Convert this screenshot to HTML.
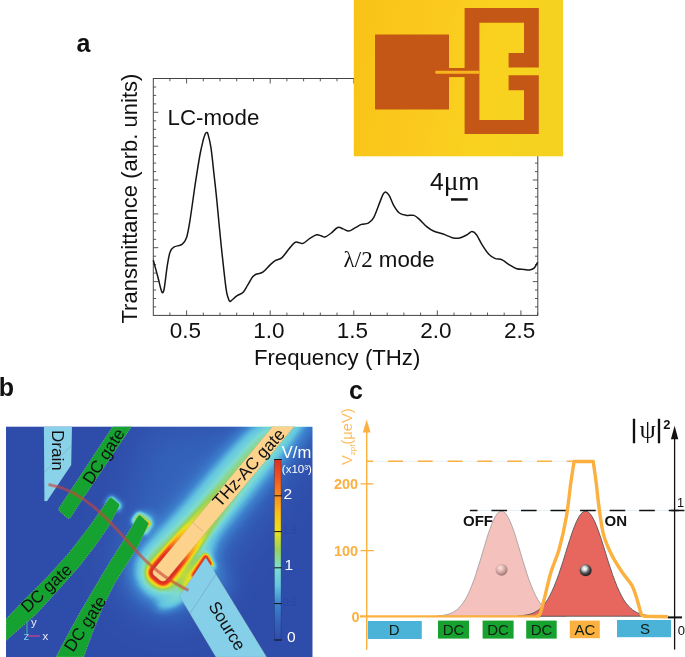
<!DOCTYPE html>
<html><head><meta charset="utf-8"><title>Figure</title>
<style>
html,body{margin:0;padding:0;background:#fff;}
body{width:685px;height:657px;overflow:hidden;}
svg{display:block;}
text{font-family:"Liberation Sans",sans-serif;}
.ser{font-family:"Liberation Serif",serif;}
</style></head><body>
<svg width="685" height="657" viewBox="0 0 685 657">
<defs>
  <linearGradient id="ygrad" x1="0" y1="0" x2="1" y2="0.15">
    <stop offset="0" stop-color="#f9c216"/><stop offset="0.45" stop-color="#facb1e"/><stop offset="0.7" stop-color="#f9d21e"/><stop offset="1" stop-color="#f5d220"/>
  </linearGradient>
  <filter id="jet" color-interpolation-filters="sRGB" x="0" y="0" width="100%" height="100%" filterUnits="objectBoundingBox">
    <feComponentTransfer>
      <feFuncR type="table" tableValues="0.184 0.204 0.243 0.384 0.494 0.588 0.922 0.988 0.980 0.941 0.871"/>
      <feFuncG type="table" tableValues="0.302 0.384 0.510 0.769 0.863 0.824 0.882 0.745 0.549 0.333 0.180"/>
      <feFuncB type="table" tableValues="0.667 0.729 0.808 0.886 0.816 0.361 0.118 0.098 0.118 0.118 0.133"/>
    </feComponentTransfer>
  </filter>
  <filter id="bl8" x="-50%" y="-50%" width="200%" height="200%"><feGaussianBlur stdDeviation="8"/></filter>
  <filter id="bl5" x="-50%" y="-50%" width="200%" height="200%"><feGaussianBlur stdDeviation="5"/></filter>
  <filter id="bl3" x="-50%" y="-50%" width="200%" height="200%"><feGaussianBlur stdDeviation="3"/></filter>
  <filter id="bl15" x="-50%" y="-50%" width="200%" height="200%"><feGaussianBlur stdDeviation="1.5"/></filter>
  <filter id="bl20" x="-50%" y="-50%" width="200%" height="200%"><feGaussianBlur stdDeviation="20"/></filter>
  <filter id="bl12" x="-50%" y="-50%" width="200%" height="200%"><feGaussianBlur stdDeviation="12"/></filter>
  <filter id="bl10" x="-50%" y="-50%" width="200%" height="200%"><feGaussianBlur stdDeviation="1.0"/></filter>
  <filter id="bl25" x="-50%" y="-50%" width="200%" height="200%"><feGaussianBlur stdDeviation="2.5"/></filter>
  <filter id="bl9" x="-50%" y="-50%" width="200%" height="200%"><feGaussianBlur stdDeviation="9"/></filter>
  <filter id="bl35" x="-50%" y="-50%" width="200%" height="200%"><feGaussianBlur stdDeviation="2.6"/></filter>
  <linearGradient id="acg3" gradientUnits="userSpaceOnUse" x1="157.5" y1="577.8" x2="281.7" y2="426.4"><stop offset="0" stop-color="#fff" stop-opacity="0.27"/><stop offset="0.4" stop-color="#fff" stop-opacity="0.26"/><stop offset="1" stop-color="#fff" stop-opacity="0.23"/></linearGradient>
  <linearGradient id="acg2" gradientUnits="userSpaceOnUse" x1="157.5" y1="577.8" x2="281.7" y2="426.4"><stop offset="0" stop-color="#fff" stop-opacity="0.36"/><stop offset="0.2" stop-color="#fff" stop-opacity="0.36"/><stop offset="0.3" stop-color="#fff" stop-opacity="0.3"/><stop offset="0.45" stop-color="#fff" stop-opacity="0.2"/><stop offset="0.6" stop-color="#fff" stop-opacity="0.13"/><stop offset="1" stop-color="#fff" stop-opacity="0.1"/></linearGradient>
  <linearGradient id="acg1" gradientUnits="userSpaceOnUse" x1="157.5" y1="577.8" x2="281.7" y2="426.4"><stop offset="0" stop-color="#fff" stop-opacity="1"/><stop offset="0.1" stop-color="#fff" stop-opacity="1"/><stop offset="0.15" stop-color="#fff" stop-opacity="0.8"/><stop offset="0.2" stop-color="#fff" stop-opacity="0.42"/><stop offset="0.27" stop-color="#fff" stop-opacity="0.1"/><stop offset="0.33" stop-color="#fff" stop-opacity="0"/></linearGradient>
  <linearGradient id="acg" gradientUnits="userSpaceOnUse" x1="157.5" y1="577.8" x2="281.7" y2="426.4">
    <stop offset="0" stop-color="#fff" stop-opacity="0.62"/><stop offset="0.25" stop-color="#fff" stop-opacity="0.55"/><stop offset="0.55" stop-color="#fff" stop-opacity="0.42"/><stop offset="1" stop-color="#fff" stop-opacity="0.34"/>
  </linearGradient>
  <linearGradient id="ach" gradientUnits="userSpaceOnUse" x1="157.5" y1="577.8" x2="281.7" y2="426.4">
    <stop offset="0" stop-color="#fff" stop-opacity="1"/><stop offset="0.2" stop-color="#fff" stop-opacity="0.9"/><stop offset="0.45" stop-color="#fff" stop-opacity="0.25"/><stop offset="0.7" stop-color="#fff" stop-opacity="0"/>
  </linearGradient>
  <linearGradient id="cbar" x1="0" y1="1" x2="0" y2="0">
    <stop offset="0.00" stop-color="rgb(47,77,170)"/><stop offset="0.10" stop-color="rgb(52,98,186)"/><stop offset="0.20" stop-color="rgb(62,130,206)"/><stop offset="0.30" stop-color="rgb(98,196,226)"/><stop offset="0.40" stop-color="rgb(126,220,208)"/><stop offset="0.50" stop-color="rgb(150,210,92)"/><stop offset="0.60" stop-color="rgb(235,225,30)"/><stop offset="0.70" stop-color="rgb(252,190,25)"/><stop offset="0.80" stop-color="rgb(250,140,30)"/><stop offset="0.90" stop-color="rgb(240,85,30)"/><stop offset="1.00" stop-color="rgb(222,46,34)"/>
  </linearGradient>
  <clipPath id="bclip"><rect x="6" y="426.4" width="306.7" height="231"/></clipPath>
  <radialGradient id="ballp" cx="0.4" cy="0.35" r="0.7"><stop offset="0" stop-color="#fbe6e4"/><stop offset="0.45" stop-color="#e2b2ad"/><stop offset="1" stop-color="#8f6f6c"/></radialGradient>
  <radialGradient id="ballk" cx="0.42" cy="0.36" r="0.7"><stop offset="0" stop-color="#ffffff"/><stop offset="0.22" stop-color="#e4e4e4"/><stop offset="0.55" stop-color="#555"/><stop offset="1" stop-color="#0a0a0a"/></radialGradient>
</defs>

<!-- ================= PANEL A ================= -->
<g id="panelA">
  <text x="76.5" y="52" font-size="25" font-weight="bold" fill="#111">a</text>
  <rect x="153.3" y="78.5" width="384.5" height="236.9" fill="none" stroke="#444" stroke-width="1"/>
  <path d="M169.9 315.4 v-2.8 M169.9 78.5 v2.8 M186.6 315.4 v-5.0 M186.6 78.5 v5.0 M203.3 315.4 v-2.8 M203.3 78.5 v2.8 M220.0 315.4 v-2.8 M220.0 78.5 v2.8 M236.7 315.4 v-2.8 M236.7 78.5 v2.8 M253.5 315.4 v-2.8 M253.5 78.5 v2.8 M270.2 315.4 v-5.0 M270.2 78.5 v5.0 M286.9 315.4 v-2.8 M286.9 78.5 v2.8 M303.6 315.4 v-2.8 M303.6 78.5 v2.8 M320.3 315.4 v-2.8 M320.3 78.5 v2.8 M337.0 315.4 v-2.8 M337.0 78.5 v2.8 M353.8 315.4 v-5.0 M353.8 78.5 v5.0 M370.5 315.4 v-2.8 M370.5 78.5 v2.8 M387.2 315.4 v-2.8 M387.2 78.5 v2.8 M403.9 315.4 v-2.8 M403.9 78.5 v2.8 M420.6 315.4 v-2.8 M420.6 78.5 v2.8 M437.3 315.4 v-5.0 M437.3 78.5 v5.0 M454.0 315.4 v-2.8 M454.0 78.5 v2.8 M470.8 315.4 v-2.8 M470.8 78.5 v2.8 M487.5 315.4 v-2.8 M487.5 78.5 v2.8 M504.2 315.4 v-2.8 M504.2 78.5 v2.8 M520.9 315.4 v-5.0 M520.9 78.5 v5.0 M537.6 315.4 v-2.8 M537.6 78.5 v2.8 M153.3 87.0 h2.8 M537.8 87.0 h-2.8 M153.3 95.4 h2.8 M537.8 95.4 h-2.8 M153.3 103.9 h2.8 M537.8 103.9 h-2.8 M153.3 112.3 h5.0 M537.8 112.3 h-5.0 M153.3 120.8 h2.8 M537.8 120.8 h-2.8 M153.3 129.3 h2.8 M537.8 129.3 h-2.8 M153.3 137.7 h2.8 M537.8 137.7 h-2.8 M153.3 146.2 h5.0 M537.8 146.2 h-5.0 M153.3 154.6 h2.8 M537.8 154.6 h-2.8 M153.3 163.1 h2.8 M537.8 163.1 h-2.8 M153.3 171.6 h2.8 M537.8 171.6 h-2.8 M153.3 180.0 h5.0 M537.8 180.0 h-5.0 M153.3 188.5 h2.8 M537.8 188.5 h-2.8 M153.3 196.9 h2.8 M537.8 196.9 h-2.8 M153.3 205.4 h2.8 M537.8 205.4 h-2.8 M153.3 213.9 h5.0 M537.8 213.9 h-5.0 M153.3 222.3 h2.8 M537.8 222.3 h-2.8 M153.3 230.8 h2.8 M537.8 230.8 h-2.8 M153.3 239.3 h2.8 M537.8 239.3 h-2.8 M153.3 247.7 h5.0 M537.8 247.7 h-5.0 M153.3 256.2 h2.8 M537.8 256.2 h-2.8 M153.3 264.6 h2.8 M537.8 264.6 h-2.8 M153.3 273.1 h2.8 M537.8 273.1 h-2.8 M153.3 281.6 h5.0 M537.8 281.6 h-5.0 M153.3 290.0 h2.8 M537.8 290.0 h-2.8 M153.3 298.5 h2.8 M537.8 298.5 h-2.8 M153.3 306.9 h2.8 M537.8 306.9 h-2.8" stroke="#444" stroke-width="0.9" fill="none"/>
  <path d="M153.3 260.2 C154.1 263.1 156.7 272.6 158.0 277.5 C159.3 282.4 160.2 287.0 161.0 289.5 C161.8 292.0 162.0 292.9 162.6 292.7 C163.2 292.4 163.5 292.6 164.3 288.0 C165.1 283.4 166.4 270.8 167.4 264.8 C168.4 258.8 169.0 254.9 170.1 252.0 C171.2 249.1 171.8 248.4 173.8 247.1 C175.8 245.8 179.9 245.9 182.0 244.3 C184.1 242.7 185.2 241.6 186.6 237.4 C188.0 233.2 188.7 228.4 190.2 219.0 C191.7 209.6 194.0 191.8 195.7 180.9 C197.4 170.0 198.9 160.3 200.2 153.5 C201.5 146.7 202.5 143.1 203.3 139.8 C204.2 136.5 204.8 135.0 205.3 133.8 C205.9 132.6 206.2 132.4 206.6 132.5 C207.0 132.6 207.3 131.7 208.0 134.2 C208.7 136.7 209.9 140.9 210.9 147.4 C211.9 153.9 212.9 164.2 213.9 173.3 C214.9 182.4 215.8 190.0 217.0 202.2 C218.2 214.4 219.8 232.4 221.3 246.5 C222.8 260.6 224.7 278.2 225.8 286.7 C226.9 295.2 227.3 295.1 228.0 297.5 C228.7 299.9 229.2 300.9 229.9 301.3 C230.6 301.7 230.8 300.9 232.0 300.0 C233.2 299.1 234.9 297.1 236.8 295.8 C238.7 294.5 241.4 294.0 243.2 292.2 C245.0 290.4 246.2 287.4 247.8 284.9 C249.4 282.4 251.1 278.8 252.5 277.0 C253.9 275.2 254.3 275.1 256.0 274.3 C257.7 273.5 260.4 273.8 262.8 272.2 C265.2 270.6 268.0 266.9 270.1 264.9 C272.2 262.9 273.6 261.6 275.6 260.4 C277.6 259.2 279.7 259.6 282.0 257.6 C284.3 255.6 287.2 251.0 289.3 248.5 C291.4 246.0 293.2 243.6 294.7 242.6 C296.2 241.6 297.1 242.3 298.5 242.4 C299.9 242.5 301.0 244.1 303.0 243.4 C305.0 242.7 308.0 239.5 310.3 238.1 C312.6 236.7 314.9 235.2 316.7 234.8 C318.5 234.4 319.6 235.4 321.0 235.8 C322.4 236.2 323.2 237.5 324.9 237.0 C326.6 236.5 329.2 234.6 331.3 233.0 C333.4 231.4 335.7 228.2 337.7 227.5 C339.7 226.8 341.4 228.3 343.2 228.9 C345.0 229.5 346.6 231.3 348.6 231.1 C350.6 230.9 352.9 229.0 355.0 227.9 C357.1 226.8 359.2 225.2 361.4 224.4 C363.6 223.6 366.2 224.2 368.3 223.1 C370.4 222.0 371.9 220.8 373.7 217.6 C375.5 214.4 377.7 207.7 379.2 203.9 C380.7 200.1 381.8 196.7 382.9 194.7 C384.0 192.7 384.5 191.8 385.6 192.0 C386.7 192.2 387.9 193.4 389.3 195.7 C390.7 198.0 392.1 202.8 393.8 205.7 C395.5 208.6 397.2 211.4 399.3 213.0 C401.4 214.6 404.2 215.0 406.6 215.4 C409.0 215.8 411.8 214.7 413.9 215.4 C416.0 216.1 417.3 217.5 419.4 219.4 C421.5 221.3 424.3 224.7 426.7 226.7 C429.1 228.7 431.2 230.1 434.0 231.3 C436.8 232.5 440.1 232.9 443.2 234.0 C446.2 235.1 449.6 237.0 452.3 237.7 C455.0 238.4 457.2 238.5 459.6 238.0 C462.0 237.5 464.8 236.0 466.9 234.9 C469.0 233.8 470.4 231.6 472.0 231.6 C473.6 231.6 474.8 232.5 476.5 234.7 C478.2 236.9 480.0 241.5 482.0 244.7 C484.0 247.9 486.3 251.5 488.4 253.8 C490.5 256.1 492.5 257.4 494.8 258.4 C497.1 259.4 499.7 258.8 502.1 259.9 C504.5 261.0 507.0 263.3 509.4 264.8 C511.8 266.3 514.3 268.0 516.7 268.8 C519.1 269.6 521.9 269.2 524.0 269.4 C526.1 269.6 527.8 270.1 529.5 269.9 C531.2 269.7 532.7 269.4 534.1 268.1 C535.5 266.8 537.1 263.1 537.7 262.1" fill="none" stroke="#161616" stroke-width="1.5" stroke-linejoin="round"/>
  <g font-size="22.5" fill="#111" text-anchor="middle">
    <text x="185.3" y="337.9">0.5</text><text x="268.9" y="337.9">1.0</text><text x="352.5" y="337.9">1.5</text><text x="436" y="337.9">2.0</text><text x="519.6" y="337.9">2.5</text>
  </g>
  <text x="253.9" y="364.7" font-size="22.2" fill="#111">Frequency (THz)</text>
  <text transform="translate(137.3,323.5) rotate(-90)" font-size="22" fill="#111">Transmittance (arb. units)</text>
  <text x="167.6" y="124.5" font-size="22.3" fill="#111">LC-mode</text>
  <text x="343.6" y="267" font-size="22.3" fill="#111"><tspan class="ser" font-size="23">λ/2</tspan> mode</text>
  <text x="430" y="189.8" font-size="24.8" fill="#111">4<tspan class="ser" font-size="27.5">μ</tspan>m</text>
  <rect x="451" y="198.2" width="16.7" height="2.5" fill="#111"/>
  <!-- inset micrograph -->
  <g id="inset">
    <rect x="353.8" y="0" width="209.2" height="156.3" fill="url(#ygrad)"/>
    <rect x="375" y="34.5" width="74" height="75" fill="#c45716"/>
    <path d="M464.6 8 H538.8 V67.4 H508.6 V53 H524 V22.8 H479.4 V120 H524 V90.2 H508.6 V75.3 H538.8 V134 H464.6 Z" fill="#c45716"/>
    <rect x="448.5" y="68" width="17" height="9.1" fill="#c45716"/>
    <rect x="435.3" y="70.8" width="44.4" height="3" rx="1" fill="#f7b41e"/>
  </g>
</g>

<!-- ================= PANEL B ================= -->
<g id="panelB">
  <text x="-1.2" y="396" font-size="25" font-weight="bold" fill="#111">b</text>
  <g clip-path="url(#bclip)">
    <g filter="url(#jet)">
      <rect x="6" y="426.4" width="306.7" height="231" fill="#000"/>
      <!-- very broad faint glow -->
      <g filter="url(#bl20)">
        <path d="M125 585 L280 400 L318 430 L190 615 Z" fill="#fff" fill-opacity="0.12"/>
        <circle cx="166" cy="580" r="36" fill="#fff" fill-opacity="0.14"/>
        <path d="M150 426 L270 426 L150 590 L110 560 Z" fill="#fff" fill-opacity="0.1"/>
      </g>
      <g filter="url(#bl12)">
        <circle cx="160" cy="578" r="22" fill="#fff" fill-opacity="0.13"/>
        <path d="M150 560 L180 520 L215 550 L190 600 Z" fill="#fff" fill-opacity="0.06"/>
      </g>
      <g filter="url(#bl9)">
        <path d="M272.6 426.4 L154.2 569.1 Q151 572.9 154.9 576.1 L159.6 579.9 Q163.5 583.1 166.7 579.3 L294.3 426.4 Z" fill="none" stroke="url(#acg3)" stroke-width="30"/>
        <path d="M262 426.4 L146 566" fill="none" stroke="#fff" stroke-opacity="0.14" stroke-width="22"/>
        <path d="M179.4 595.9 L205.8 557.5 L228 594" fill="none" stroke="#fff" stroke-opacity="0.17" stroke-width="14"/>
      </g>
      <g filter="url(#bl5)">
        <circle cx="146" cy="520" r="7" fill="#fff" fill-opacity="0.3"/>
        <ellipse cx="161" cy="575" rx="15" ry="13" fill="#fff" fill-opacity="0.3"/>
        <path d="M178 574 L203 555 L197 575 L184 592 Z" fill="#fff" fill-opacity="0.2"/>
        <path d="M181 596 L172 604 L160 607" fill="none" stroke="#fff" stroke-opacity="0.25" stroke-width="8" stroke-linecap="round"/>
      </g>
      <g filter="url(#bl25)">
        <path d="M106 505 L111.5 497.5 L120 505 L117 511" fill="none" stroke="#fff" stroke-opacity="0.5" stroke-width="4" stroke-linejoin="round"/>
        <path d="M133 523 L139 515 L148 523.5 L143 533" fill="none" stroke="#fff" stroke-opacity="0.62" stroke-width="5" stroke-linejoin="round"/>
      </g>
      <g filter="url(#bl35)">
        <path d="M272.6 426.4 L154.2 569.1 Q151 572.9 154.9 576.1 L159.6 579.9 Q163.5 583.1 166.7 579.3 L294.3 426.4 Z" fill="none" stroke="url(#acg2)" stroke-width="10.5"/>
        <path d="M183 591 L205.8 557.5 L213 569" fill="none" stroke="#fff" stroke-opacity="0.3" stroke-width="7"/>
      </g>
      <g filter="url(#bl10)">
        <path d="M272.6 426.4 L154.2 569.1 Q151 572.9 154.9 576.1 L159.6 579.9 Q163.5 583.1 166.7 579.3 L294.3 426.4 Z" fill="none" stroke="url(#acg1)" stroke-width="8.4"/>
        <path d="M194.5 575 L205.8 557.5 L209.5 563.5" fill="none" stroke="#fff" stroke-opacity="1" stroke-width="6" stroke-linejoin="round" stroke-linecap="round"/>
        <circle cx="148.3" cy="523.5" r="1.8" fill="#fff" fill-opacity="0.9"/>
      </g>
    </g>
    <!-- gates -->
    <path d="M43.9 426.4 H72 L71.2 464.9 L46.9 501.2 L44.4 500.9 Z" fill="#8ad1ea"/>
    <path d="M112.8 426.4 H131.6 L78.8 504.8 L70.5 517.6 Q68.5 519.3 66.6 517.6 L59.6 511.2 Q57.8 509.4 59.3 507.6 Z" fill="#15a230" stroke="#e8dcc8" stroke-opacity="0.55" stroke-width="0.7" stroke-dasharray="1.3 1.3"/>
    <path d="M109 498.4 Q110.5 496.8 112.3 498.2 L118.6 503.6 Q120 505 119 506.8 L108.7 526.3 L95.5 545.4 L78.8 566.9 L59.7 588.4 L35.8 614.6 L6 640.5 V619 L23.9 600.3 L47.8 576.4 L69.3 552.5 L89.6 526.3 Z" fill="#15a230" stroke="#e8dcc8" stroke-opacity="0.55" stroke-width="0.7" stroke-dasharray="1.3 1.3"/>
    <path d="M138 516.2 Q139.3 514.6 141 516 L147.6 522 Q149 523.4 148.2 525 L138.5 545.4 L126.6 564.5 L114.6 583.6 L102.7 607.5 L93.1 631.3 L83.6 657 H56.1 L65.7 638.5 L78.8 614.6 L95.5 586 L109.9 562.1 L124.2 539.4 L136.1 519.1 Z" fill="#15a230" stroke="#e8dcc8" stroke-opacity="0.55" stroke-width="0.7" stroke-dasharray="1.3 1.3"/>
    <path d="M272.6 426.4 L154.2 569.1 Q151 572.9 154.9 576.1 L159.6 579.9 Q163.5 583.1 166.7 579.3 L294.3 426.4 Z" fill="#fdd28c" stroke="#8c8c78" stroke-opacity="0.6" stroke-width="0.7" stroke-dasharray="1.3 1.3"/>
    <path d="M205.8 557.5 L179.4 595.9 L215.8 657 H266.7 Z" fill="#86cfe8" stroke="#7a7a70" stroke-opacity="0.5" stroke-width="0.7" stroke-dasharray="1.3 1.3"/>
    <!-- thin construction lines -->
    <path d="M192.8 522.6 L203 531.2" stroke="#8a7a60" stroke-opacity="0.5" stroke-width="0.6"/>
    <path d="M216 574 L183 624" stroke="#557" stroke-opacity="0.4" stroke-width="0.6"/>
    <path d="M44.5 472 L71 446" stroke="#557" stroke-opacity="0.3" stroke-width="0.6"/>
    <!-- red arc -->
    <path d="M48.5 484.5 C83 490 108 519 133 547.5 C150 567 170 581.5 188.5 590.4" fill="none" stroke="#c8463c" stroke-opacity="0.62" stroke-width="3.2"/>
    <!-- labels -->
    <g font-size="17" fill="#111">
      <text transform="translate(51.5,430) rotate(90)">Drain</text>
      <text transform="translate(91.5,485.5) rotate(-57)">DC gate</text>
      <text transform="translate(27.5,613.5) rotate(-43)">DC gate</text>
      <text transform="translate(73,653) rotate(-57)">DC gate</text>
      <text transform="translate(220,508) rotate(-48)">THz-AC gate</text>
      <text transform="translate(208,606) rotate(58)">Source</text>
    </g>
    <!-- colour bar -->
    <rect x="274.3" y="459.5" width="6.8" height="180.5" fill="url(#cbar)" stroke="#1c2c60" stroke-opacity="0.6" stroke-width="0.6"/>
    <path d="M274.3 459.5 h7.5 M274.3 495.8 h7.5 M274.3 531.6 h7.5 M274.3 567.8 h7.5 M274.3 603.6 h7.5 M274.3 640 h7.5" stroke="#111" stroke-width="1"/>
    <g fill="#fff" font-size="15.5">
      <text x="281.8" y="457.6" font-size="16.6">V/m</text>
      <text x="281.8" y="472.6" font-size="11.5">(x10³)</text>
      <text x="283.6" y="498.7">2</text>
      <text x="284.6" y="569.8">1</text>
      <text x="287" y="641.5">0</text>
    </g>
    <g fill="#27409a" fill-opacity="0.55" font-size="10"><text x="283" y="534">1.5</text><text x="283" y="606">0.5</text></g>
    <!-- axes triad -->
    <path d="M27 634 V621" stroke="#3aa7a0" stroke-width="1.2"/>
    <path d="M28 636 H40" stroke="#d0408a" stroke-width="1.2"/>
    <g fill="#e8ecf8" font-size="11.5"><text x="31" y="626">y</text><text x="23.5" y="639.5" fill="#7fd0ee">z</text><text x="42.5" y="639.5">x</text></g>
  </g>
</g>

<!-- ================= PANEL C ================= -->
<g id="panelC">
  <text x="349" y="399" font-size="25" font-weight="bold" fill="#111">c</text>
  <!-- bells -->
  <path d="M437.2 616.2 L437.2 615.9 L439.4 615.7 L441.5 615.5 L443.7 615.2 L445.8 614.8 L447.9 614.3 L450.1 613.6 L452.2 612.7 L454.4 611.5 L456.5 610.0 L458.7 608.1 L460.8 605.8 L462.9 603.1 L465.1 599.8 L467.2 595.9 L469.4 591.4 L471.5 586.3 L473.7 580.7 L475.8 574.5 L477.9 567.8 L480.1 560.9 L482.2 553.7 L484.4 546.5 L486.5 539.4 L488.6 532.7 L490.8 526.6 L492.9 521.3 L495.1 516.9 L497.2 513.7 L499.4 511.7 L501.5 511.0 L503.6 511.7 L505.8 513.7 L507.9 516.9 L510.1 521.3 L512.2 526.6 L514.4 532.7 L516.5 539.4 L518.6 546.5 L520.8 553.7 L522.9 560.9 L525.1 567.8 L527.2 574.5 L529.3 580.7 L531.5 586.3 L533.6 591.4 L535.8 595.9 L537.9 599.8 L540.1 603.1 L542.2 605.8 L544.3 608.1 L546.5 610.0 L548.6 611.5 L550.8 612.7 L552.9 613.6 L555.0 614.3 L557.2 614.8 L559.3 615.2 L561.5 615.5 L563.6 615.7 L565.8 615.9 L565.8 616.2 Z" fill="#f4c1bc" stroke="#9a9a9a" stroke-width="0.8"/>
  <path d="M518.3 616.2 L518.3 615.9 L520.5 615.7 L522.8 615.5 L525.0 615.2 L527.3 614.8 L529.5 614.3 L531.7 613.6 L534.0 612.7 L536.2 611.5 L538.5 610.0 L540.7 608.1 L543.0 605.8 L545.2 603.1 L547.5 599.8 L549.7 595.9 L551.9 591.4 L554.2 586.3 L556.4 580.7 L558.7 574.5 L560.9 567.8 L563.2 560.9 L565.4 553.7 L567.6 546.5 L569.9 539.4 L572.1 532.7 L574.4 526.6 L576.6 521.3 L578.9 516.9 L581.1 513.7 L583.4 511.7 L585.6 511.0 L587.8 511.7 L590.1 513.7 L592.3 516.9 L594.6 521.3 L596.8 526.6 L599.1 532.7 L601.3 539.4 L603.6 546.5 L605.8 553.7 L608.0 560.9 L610.3 567.8 L612.5 574.5 L614.8 580.7 L617.0 586.3 L619.3 591.4 L621.5 595.9 L623.7 599.8 L626.0 603.1 L628.2 605.8 L630.5 608.1 L632.7 610.0 L635.0 611.5 L637.2 612.7 L639.5 613.6 L641.7 614.3 L643.9 614.8 L646.2 615.2 L648.4 615.5 L650.7 615.7 L652.9 615.9 L652.9 616.2 Z" fill="#e7675f" stroke="#555" stroke-width="0.9"/>
  <!-- dashed lines -->
  <path d="M470.5 510.5 H685" stroke="#d8ecf4" stroke-width="0.8"/>
  <path d="M469.9 510.5 H685" stroke="#111" stroke-width="1.4" stroke-dasharray="15.6 13.95" stroke-dashoffset="8"/>
  <path d="M367.5 461.3 H574" stroke="#e4f0f6" stroke-width="0.8"/>
  <path d="M367 461.3 H574" stroke="#fbb040" stroke-width="1.5" stroke-dasharray="14.9 14.9" stroke-dashoffset="8.8"/>
  <!-- orange axis -->
  <path d="M366.7 428 V649.7" stroke="#fbb040" stroke-width="1.4"/>
  <path d="M366.7 419.4 L370.6 432.6 H362.8 Z" fill="#fbb040"/>
  <path d="M360.5 483.8 h13 M360.5 550.6 h13.5" stroke="#fbb040" stroke-width="1.3"/>
  <path d="M360 616.3 H540" stroke="#fbb040" stroke-width="2.2"/>
  <path d="M536.0 616.2 C536.6 616.0 538.5 616.2 539.4 615.0 C540.3 613.8 540.7 611.8 541.5 609.0 C542.3 606.2 542.8 604.7 544.4 598.5 C546.0 592.3 548.5 580.2 551.0 572.0 C553.5 563.8 556.6 558.3 559.2 549.0 C561.8 539.7 564.6 527.0 566.5 516.0 C568.4 505.0 569.5 492.0 570.8 482.9 C572.1 473.8 573.5 465.1 574.1 461.5 L593.2 461.5 L593.2 461.5 C593.7 465.1 595.2 474.6 596.2 482.9 C597.2 491.1 598.2 502.2 599.5 511.0 C600.8 519.8 601.7 528.3 603.8 535.7 C605.9 543.1 609.0 549.5 612.0 555.5 C615.0 561.5 618.7 567.0 622.0 572.0 C625.3 577.0 629.4 580.9 631.9 585.3 C634.4 589.7 635.4 594.4 636.8 598.5 C638.1 602.6 639.2 607.2 640.0 610.0 C640.8 612.8 641.0 614.0 641.8 615.0 C642.5 616.0 644.0 616.0 644.5 616.2 L668 616.8" fill="none" stroke="#fbb040" stroke-width="3.4" stroke-linejoin="round"/>
  <g font-size="14.5" font-weight="bold" fill="#fbb040" text-anchor="end">
    <text x="358.2" y="489">200</text><text x="358.2" y="555.8">100</text><text x="359.5" y="621.5">0</text>
  </g>
  <text transform="translate(351.8,465) rotate(-90)" font-size="14.7" fill="#fcbc5c">V<tspan font-size="8" dy="3">zpf</tspan><tspan dy="-3">(μeV)</tspan></text>
  <!-- black axis -->
  <path d="M674.6 436 V649.6" stroke="#111" stroke-width="1.3"/>
  <path d="M674.6 425.8 L678.3 439.3 H670.9 Z" fill="#111"/>
  <path d="M668 617.4 H682" stroke="#111" stroke-width="2"/>
  <path d="M671 510.5 H679" stroke="#111" stroke-width="1.4"/>
  <text x="677" y="507.2" font-size="12.7" fill="#111">1</text>
  <text x="677.8" y="635.3" font-size="13" fill="#111">0</text>
  <text y="438.3" font-size="25" fill="#111" text-anchor="middle"><tspan x="633.9" stroke="#111" stroke-width="0.3">|</tspan><tspan x="647.6" class="ser" font-size="26">ψ</tspan><tspan x="659.1" stroke="#111" stroke-width="0.3">|</tspan><tspan x="666.8" y="429.2" font-size="13" font-weight="bold">2</tspan></text>
  <!-- balls -->
  <circle cx="501.5" cy="569.7" r="6" fill="url(#ballp)"/>
  <circle cx="585.6" cy="570.3" r="6" fill="url(#ballk)"/>
  <!-- labels -->
  <g font-size="15" font-weight="bold" fill="#111"><text x="463" y="525.8">OFF</text><text x="604.5" y="525.8">ON</text></g>
  <!-- boxes -->
  <rect x="367.8" y="621" width="54" height="18" fill="#4bb2d8"/>
  <rect x="438" y="620.6" width="31" height="18" fill="#17a12f"/>
  <rect x="482.6" y="620.6" width="31" height="18" fill="#17a12f"/>
  <rect x="526.2" y="620.6" width="30.5" height="18" fill="#17a12f"/>
  <rect x="569.8" y="620.6" width="30" height="17.6" fill="#fbb040"/>
  <rect x="617" y="620" width="54" height="17.2" fill="#4bb2d8"/>
  <g font-size="15" fill="#0e1e12" text-anchor="middle">
    <text x="394.2" y="635">D</text><text x="453.5" y="635">DC</text><text x="498" y="635">DC</text><text x="541.5" y="635">DC</text><text x="585" y="634.8">AC</text><text x="645" y="634.3">S</text>
  </g>
</g>
</svg>
</body></html>
